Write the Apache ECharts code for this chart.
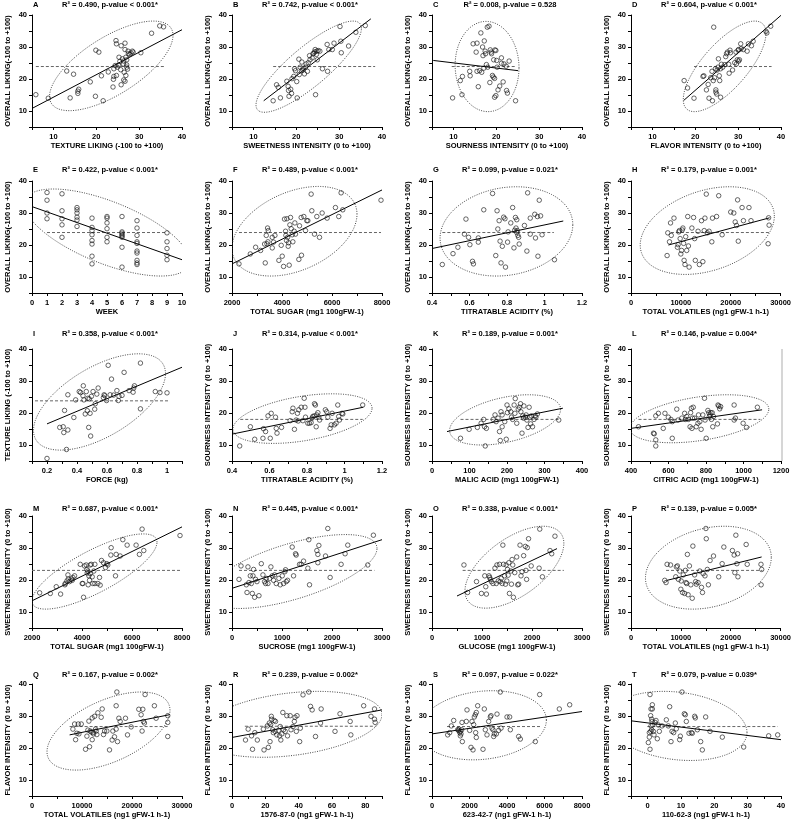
<!DOCTYPE html>
<html><head><meta charset="utf-8">
<script src="https://cdn.jsdelivr.net/npm/echarts@6/dist/echarts.min.js"></script>
<style>html,body{margin:0;padding:0;background:#fff}#c{width:794px;height:825px}</style>
</head><body><div id="c"></div>
<script>
const letters = ['A','B','C','D','E','F','G','H','I','J','K','L','M','N','O','P','Q','R','S','T'];
const stats = [
 'R² = 0.490, p-value < 0.001*','R² = 0.742, p-value < 0.001*','R² = 0.008, p-value = 0.528','R² = 0.604, p-value < 0.001*',
 'R² = 0.422, p-value < 0.001*','R² = 0.489, p-value < 0.001*','R² = 0.099, p-value = 0.021*','R² = 0.179, p-value = 0.001*',
 'R² = 0.358, p-value < 0.001*','R² = 0.314, p-value < 0.001*','R² = 0.189, p-value = 0.001*','R² = 0.146, p-value = 0.004*',
 'R² = 0.687, p-value < 0.001*','R² = 0.445, p-value < 0.001*','R² = 0.338, p-value < 0.001*','R² = 0.139, p-value = 0.005*',
 'R² = 0.167, p-value = 0.002*','R² = 0.239, p-value = 0.002*','R² = 0.097, p-value = 0.022*','R² = 0.079, p-value = 0.039*'];
const xNames = [
 'TEXTURE LIKING (-100 to +100)','SWEETNESS INTENSITY (0 to +100)','SOURNESS INTENSITY (0 to +100)','FLAVOR INTENSITY (0 to +100)',
 'WEEK','TOTAL SUGAR (mg1 100gFW-1)','TITRATABLE ACIDITY (%)','TOTAL VOLATILES (ng1 gFW-1 h-1)',
 'FORCE (kg)','TITRATABLE ACIDITY (%)','MALIC ACID (mg1 100gFW-1)','CITRIC ACID (mg1 100gFW-1)',
 'TOTAL SUGAR (mg1 100gFW-1)','SUCROSE (mg1 100gFW-1)','GLUCOSE (mg1 100gFW-1)','TOTAL VOLATILES (ng1 gFW-1 h-1)',
 'TOTAL VOLATILES (ng1 gFW-1 h-1)','1576-87-0 (ng1 gFW-1 h-1)','623-42-7 (ng1 gFW-1 h-1)','110-62-3 (ng1 gFW-1 h-1)'];
const yNames = [
 'OVERALL LIKING(-100 to +100)','OVERALL LIKING(-100 to +100)','OVERALL LIKING(-100 to +100)','OVERALL LIKING(-100 to +100)',
 'OVERALL LIKING(-100 to +100)','OVERALL LIKING(-100 to +100)','OVERALL LIKING(-100 to +100)','OVERALL LIKING(-100 to +100)',
 'TEXTURE LIKING (-100 to +100)','SOURNESS INTENSITY (0 to +100)','SOURNESS INTENSITY (0 to +100)','SOURNESS INTENSITY (0 to +100)',
 'SWEETNESS INTENSITY (0 to +100)','SWEETNESS INTENSITY (0 to +100)','SWEETNESS INTENSITY (0 to +100)','SWEETNESS INTENSITY (0 to +100)',
 'FLAVOR INTENSITY (0 to +100)','FLAVOR INTENSITY (0 to +100)','FLAVOR INTENSITY (0 to +100)','FLAVOR INTENSITY (0 to +100)'];
const xMins = [5,5,5,5, 0,2000,0.4,0, 0.1,0.4,0,400, 2000,0,0,0, 0,0,0,-5];
const xMaxs = [40,40,40,40, 10,8000,1.2,30000, 1.1,1.2,400,1200, 8000,3000,3000,30000, 30000,90,8000,40];
const xLabelSteps = [10,10,10,10, 1,2000,0.2,10000, 0.2,0.2,100,200, 2000,1000,1000,10000, 10000,20,2000,10];
const xTickSteps = [5,5,5,5, 1,1000,0.1,5000, 0.1,0.1,50,100, 1000,500,500,5000, 5000,10,1000,5];
const yMin = 5, yMax = 40, yTickStep = 5, yLabelStep = 10;

const ptsA = [[5.9,15.1],[8.8,14.0],[13.1,22.5],[14.7,21.5],[13.9,14.1],[15.9,16.8],[15.7,16.2],[15.7,15.5],[18.6,19.1],[19.9,29.0],[20.6,28.4],[19.8,14.6],[21.2,21.0],[21.6,13.2],[22.8,22.2],[23.9,17.5],[24.0,19.9],[24.1,20.8],[24.1,23.2],[24.6,32.0],[24.7,31.0],[24.4,24.2],[24.9,23.7],[25.2,24.3],[24.7,21.1],[25.5,25.5],[25.3,26.8],[25.7,22.9],[25.8,30.4],[25.8,18.2],[26.1,26.3],[26.4,25.6],[26.3,24.7],[26.5,22.1],[26.4,19.7],[26.7,29.2],[26.7,31.2],[26.7,19.3],[26.9,26.8],[26.9,21.1],[27.1,23.7],[27.1,24.4],[27.4,28.7],[27.5,27.9],[27.8,27.7],[28.1,28.1],[28.4,28.7],[28.6,28.4],[30.4,28.2],[32.9,34.3],[34.8,36.6],[35.7,36.3],[27.1,26.0],[27.3,23.1]];
const ptsB = [[14.6,13.2],[15.4,18.2],[15.8,17.4],[16.3,14.1],[17.8,19.3],[18.1,17.7],[18.2,16.4],[18.7,16.8],[18.9,15.5],[18.3,14.6],[19.0,20.1],[19.4,20.8],[20.1,19.2],[19.6,23.2],[19.8,22.6],[20.2,14.1],[20.6,26.2],[20.7,21.4],[20.9,23.7],[21.2,22.6],[21.3,25.3],[21.5,22.8],[21.6,23.3],[21.9,21.6],[22.2,23.7],[22.3,24.7],[22.6,22.4],[22.8,25.1],[23.1,27.3],[23.2,26.0],[23.7,26.6],[23.9,27.9],[24.1,28.1],[24.3,28.5],[24.4,29.2],[24.7,27.7],[24.5,15.1],[24.8,28.7],[25.1,28.9],[25.5,28.7],[24.9,26.0],[27.2,30.8],[27.3,22.4],[27.6,29.2],[28.8,31.2],[30.2,36.4],[30.4,31.8],[30.5,28.2],[32.2,30.3],[33.9,34.6],[36.1,36.7],[28.4,29.2],[26.1,23.2]];
const ptsC = [[9.8,14.1],[11.6,19.5],[12.0,15.1],[12.1,20.8],[13.8,22.4],[13.9,21.0],[14.6,31.0],[15.3,28.4],[15.5,31.2],[15.5,22.4],[15.8,17.6],[16.1,22.6],[16.4,34.4],[16.6,22.1],[16.8,30.0],[16.9,27.3],[17.1,23.4],[17.2,31.9],[17.4,28.7],[17.5,27.9],[17.7,24.5],[17.9,36.2],[18.0,23.7],[18.3,36.5],[18.5,18.9],[18.6,29.1],[18.8,28.4],[18.9,27.9],[19.1,21.1],[19.3,20.6],[19.4,26.0],[19.6,20.2],[19.7,29.1],[19.9,28.9],[19.6,14.3],[19.9,14.8],[20.1,25.8],[20.2,23.7],[20.4,16.6],[20.8,17.8],[21.2,26.6],[21.2,24.9],[21.6,19.1],[21.8,24.7],[22.3,24.0],[22.4,16.4],[22.6,15.6],[23.0,25.6],[24.5,13.2]];
const ptsD = [[17.4,19.5],[18.2,17.2],[19.7,14.0],[21.8,20.8],[22.0,21.0],[22.6,16.6],[23.0,18.3],[23.2,14.0],[23.6,20.4],[23.9,22.4],[24.0,13.2],[24.2,19.5],[24.3,36.2],[24.5,20.4],[24.7,23.2],[24.8,16.6],[24.8,15.9],[25.0,15.3],[25.1,22.8],[25.3,23.7],[25.4,26.3],[25.6,21.0],[25.7,19.5],[25.9,14.3],[25.9,23.2],[26.1,24.6],[26.4,23.7],[26.9,24.5],[27.1,27.0],[27.3,27.9],[27.5,28.4],[27.8,24.6],[27.9,21.8],[28.1,29.0],[28.2,28.2],[28.7,22.8],[29.2,25.1],[29.5,28.4],[29.6,24.7],[29.8,26.0],[30.0,29.0],[30.1,29.2],[30.1,25.6],[30.3,26.0],[30.6,31.0],[30.7,29.5],[31.2,29.2],[32.1,28.7],[32.4,31.0],[33.1,30.4],[33.5,31.8],[36.5,34.9],[36.7,34.4],[37.6,36.5]];
const ptsE = [[1,36.4],[1,34.0],[1,30.0],[1,28.2],[2,36.0],[2,30.7],[2,28.2],[2,26.3],[2,22.4],[3,31.7],[3,31.0],[3,30.0],[3,28.7],[3,27.8],[3,25.8],[4,28.4],[4,25.5],[4,24.5],[4,23.2],[4,21.4],[4,20.3],[4,16.5],[4,14.1],[5,28.9],[5,28.4],[5,26.9],[5,25.1],[5,22.4],[5,21.0],[6,28.9],[6,24.1],[6,23.7],[6,23.2],[6,22.8],[6,22.4],[6,19.3],[6,13.1],[7,27.6],[7,25.3],[7,23.0],[7,21.0],[7,20.5],[7,18.1],[7,17.5],[7,15.2],[7,14.4],[7,13.9],[9,23.8],[9,21.0],[9,18.9],[9,16.8],[9,15.4]];
const ptsF = [[2279,14.1],[2732,17.2],[2945,19.3],[3144,18.3],[3304,20.3],[3330,14.4],[3370,23.0],[3397,20.4],[3423,25.3],[3437,21.0],[3450,24.5],[3610,19.1],[3610,22.4],[3663,20.9],[3716,23.0],[3876,15.2],[3969,19.9],[4009,16.5],[4062,13.3],[4100,28.1],[4142,24.3],[4155,23.0],[4182,21.4],[4195,28.2],[4222,22.4],[4248,19.6],[4262,20.7],[4288,13.7],[4315,26.3],[4341,28.6],[4368,25.1],[4408,23.2],[4434,21.0],[4488,24.3],[4514,26.9],[4540,23.4],[4674,15.5],[4700,26.0],[4767,28.6],[4780,16.8],[4873,28.9],[4940,24.5],[4993,27.6],[5033,27.6],[5166,35.9],[5193,30.7],[5300,23.4],[5393,28.9],[5500,22.4],[5606,30.0],[5805,28.4],[6138,31.7],[6271,28.9],[6364,36.3],[6430,31.0],[7960,34.0]];
const ptsG = [[0.455,13.9],[0.512,17.3],[0.538,19.3],[0.573,23.4],[0.581,28.1],[0.595,22.4],[0.602,20.1],[0.616,14.9],[0.621,14.1],[0.647,22.2],[0.647,20.9],[0.676,31.0],[0.723,36.1],[0.740,16.7],[0.747,30.7],[0.751,25.0],[0.758,27.6],[0.763,21.2],[0.768,14.4],[0.775,19.6],[0.782,28.7],[0.789,28.2],[0.792,13.1],[0.803,20.9],[0.806,24.1],[0.820,26.9],[0.830,31.7],[0.837,19.1],[0.841,24.6],[0.845,28.6],[0.848,25.3],[0.852,23.9],[0.852,27.9],[0.855,24.5],[0.858,23.0],[0.862,22.4],[0.865,20.3],[0.893,26.1],[0.906,18.1],[0.910,36.3],[0.924,28.4],[0.924,23.4],[0.948,29.6],[0.952,22.2],[0.962,28.9],[0.965,16.5],[0.972,34.0],[0.979,29.1],[0.987,23.2],[1.053,15.4]];
const ptsH = [[7240,16.7],[7380,23.8],[7720,21.0],[7930,26.9],[8070,23.0],[8620,28.4],[9310,19.3],[9450,20.1],[9590,24.1],[9700,24.5],[9860,22.0],[10000,17.2],[10140,18.3],[10280,24.7],[10410,25.3],[10550,20.5],[10650,15.2],[10830,13.9],[10970,22.6],[11170,18.3],[11380,28.9],[11520,19.7],[11660,13.1],[12210,25.3],[12550,28.6],[12760,22.0],[12900,15.2],[13450,24.3],[13720,13.9],[14140,27.6],[14410,14.8],[14690,24.5],[14830,28.4],[15100,35.9],[15310,23.8],[15660,24.3],[16210,21.0],[16340,28.4],[17170,28.9],[17590,35.4],[18280,23.2],[20000,30.3],[20620,30.0],[20900,27.2],[21170,26.1],[21380,34.1],[21520,21.2],[22280,31.7],[22550,27.6],[23660,31.7],[24070,27.6],[27600,28.5],[27700,26.2],[27500,20.4]];
const ptsI = [[0.2,5.8],[0.285,15.5],[0.308,15.7],[0.312,13.9],[0.317,20.8],[0.330,8.6],[0.339,14.7],[0.339,25.7],[0.379,18.6],[0.391,24.1],[0.415,26.7],[0.424,26.4],[0.440,25.4],[0.442,28.5],[0.446,24.1],[0.455,19.7],[0.462,26.7],[0.469,20.7],[0.473,24.6],[0.478,15.5],[0.482,24.4],[0.487,19.9],[0.491,12.8],[0.496,25.2],[0.507,26.7],[0.518,21.2],[0.522,22.9],[0.532,25.9],[0.541,27.8],[0.576,24.8],[0.581,25.7],[0.585,25.4],[0.597,23.9],[0.608,34.9],[0.621,25.7],[0.630,30.6],[0.644,25.6],[0.666,27.0],[0.675,23.9],[0.680,25.2],[0.700,25.5],[0.714,32.7],[0.747,27.0],[0.774,26.5],[0.778,27.8],[0.783,28.5],[0.823,21.3],[0.823,35.6],[0.922,26.7],[0.953,26.4],[1.0,26.3]];
const ptsJ = [[0.441,9.7],[0.498,15.7],[0.521,11.8],[0.565,12.1],[0.568,15.1],[0.579,14.2],[0.592,19.1],[0.604,12.1],[0.609,19.9],[0.632,18.7],[0.636,15.2],[0.640,13.7],[0.664,15.5],[0.710,17.6],[0.721,20.4],[0.725,21.5],[0.733,14.9],[0.742,17.8],[0.749,19.9],[0.753,17.5],[0.756,21.0],[0.769,21.8],[0.778,17.6],[0.785,24.6],[0.789,21.8],[0.792,18.7],[0.804,16.8],[0.813,16.8],[0.822,17.0],[0.827,18.4],[0.831,18.9],[0.838,19.1],[0.840,22.9],[0.845,22.5],[0.849,15.7],[0.852,19.4],[0.858,20.1],[0.863,18.7],[0.867,17.8],[0.898,21.0],[0.905,20.4],[0.911,18.7],[0.923,15.2],[0.929,16.3],[0.934,19.9],[0.946,16.3],[0.955,16.8],[0.964,22.5],[0.969,18.9],[0.973,17.8],[0.987,19.9],[0.991,19.7],[1.097,22.5]];
const ptsK = [[76,12.1],[99,14.9],[121,15.5],[131,16.8],[138,18.0],[140,15.7],[142,9.7],[145,15.2],[163,18.0],[168,19.4],[171,17.3],[176,18.4],[180,14.2],[182,11.4],[184,20.4],[187,19.4],[187,15.7],[194,17.3],[198,11.8],[200,22.5],[201,20.1],[205,21.3],[210,20.4],[212,18.7],[215,18.0],[219,22.5],[221,19.9],[222,24.5],[226,16.8],[230,21.2],[233,21.8],[236,22.9],[237,20.4],[240,13.7],[242,19.1],[244,18.4],[245,22.2],[249,18.7],[251,19.4],[253,17.8],[256,15.5],[259,21.8],[261,18.7],[263,16.6],[265,19.1],[268,15.7],[272,18.0],[275,19.1],[277,18.7],[281,19.7],[338,17.8]];
const ptsL = [[440,15.7],[520,13.7],[524,13.5],[532,11.6],[532,9.7],[532,19.1],[546,19.9],[572,15.2],[581,19.9],[599,18.7],[613,18.0],[620,17.3],[620,12.1],[644,21.2],[651,17.8],[671,18.4],[686,19.9],[690,18.0],[697,18.9],[706,18.0],[715,15.7],[718,20.1],[722,21.5],[725,15.2],[728,18.4],[732,21.8],[739,18.4],[748,15.7],[757,16.8],[760,19.4],[767,17.3],[774,14.9],[783,19.4],[792,24.6],[795,17.8],[801,12.1],[810,20.8],[815,20.1],[818,18.9],[822,19.4],[826,20.1],[829,18.0],[833,20.1],[836,15.7],[840,18.9],[861,16.6],[864,22.5],[868,22.2],[873,21.3],[878,22.0],[950,22.5],[950,17.8],[957,18.4],[998,16.8],[1016,15.5],[1074,21.8]];
const ptsM = [[2306,16.0],[2732,15.8],[2971,17.9],[3144,15.6],[3317,18.5],[3330,18.9],[3397,19.7],[3437,21.6],[3450,20.3],[3503,19.5],[3570,20.3],[3610,19.9],[3636,20.8],[3703,21.3],[3929,24.9],[4009,18.9],[4035,18.9],[4062,14.6],[4102,24.4],[4168,24.7],[4195,23.3],[4208,22.2],[4235,22.8],[4248,18.5],[4275,21.3],[4301,19.9],[4328,22.0],[4328,24.7],[4368,24.9],[4408,21.0],[4434,18.9],[4474,22.8],[4514,24.9],[4514,18.9],[4634,18.9],[4700,20.8],[4727,18.4],[4780,26.1],[4860,25.4],[4940,23.9],[4993,25.1],[5033,24.7],[5153,27.8],[5166,30.1],[5340,21.3],[5366,28.0],[5526,27.5],[5633,32.6],[5805,30.9],[6164,30.9],[6297,28.0],[6470,29.2],[6404,35.9],[7920,33.9]];
const ptsN = [[140,20.2],[180,24.4],[286,18.5],[300,16.1],[319,24.1],[339,19.2],[366,21.3],[386,18.9],[406,15.8],[419,21.3],[432,23.3],[452,14.6],[472,20.2],[499,19.5],[539,15.1],[586,25.1],[619,21.6],[652,19.5],[672,18.9],[685,20.5],[719,18.9],[752,20.5],[778,24.1],[805,21.3],[832,19.9],[852,21.6],[885,18.9],[938,20.5],[965,18.5],[1005,21.3],[1031,18.9],[1058,22.6],[1071,23.2],[1085,19.5],[1111,19.9],[1204,30.3],[1231,21.3],[1271,28.2],[1284,27.8],[1351,24.9],[1384,24.9],[1431,25.9],[1517,23.7],[1550,18.5],[1537,32.6],[1697,29.2],[1717,28.0],[1717,25.4],[1737,30.8],[1870,27.5],[1916,36.1],[1963,20.8],[2182,24.9],[2262,28.2],[2315,30.9],[2715,24.7],[2828,34.0]];
const ptsO = [[639,24.7],[712,16.1],[890,19.5],[989,15.8],[1055,21.3],[1075,17.9],[1088,15.6],[1140,21.3],[1154,20.8],[1167,20.2],[1187,19.5],[1220,18.9],[1259,23.7],[1285,18.9],[1299,24.7],[1325,19.7],[1351,24.9],[1365,19.5],[1384,20.5],[1404,18.9],[1417,30.9],[1430,24.9],[1450,21.3],[1470,18.7],[1483,24.7],[1496,19.7],[1510,23.3],[1523,21.5],[1536,25.4],[1549,15.8],[1576,22.8],[1589,18.7],[1602,26.4],[1615,24.7],[1628,14.6],[1655,22.3],[1694,27.2],[1714,18.5],[1734,18.7],[1760,30.9],[1780,21.3],[1800,22.6],[1833,27.6],[1866,30.5],[1879,23.0],[1892,20.2],[1905,30.1],[1931,32.9],[1984,24.4],[2142,23.7],[2155,35.9],[2208,21.0],[2360,29.2],[2394,28.2],[2459,33.7]];
const ptsP = [[6760,19.9],[7030,19.2],[7240,24.9],[7930,24.7],[8970,21.0],[9100,24.1],[9310,24.4],[9520,20.2],[9790,22.8],[10000,17.1],[10070,19.7],[10340,16.1],[10480,21.6],[10760,15.8],[10900,23.0],[11030,19.2],[11170,18.9],[11310,28.0],[11450,15.4],[11720,24.4],[12000,18.5],[12280,14.3],[12410,30.6],[12760,21.6],[12970,19.5],[13100,18.7],[13450,19.2],[13790,22.8],[14140,17.7],[14340,16.1],[14480,22.0],[14830,21.3],[15030,36.1],[15100,32.9],[15310,23.3],[15520,18.5],[15860,26.1],[16550,27.5],[17590,21.0],[18280,25.1],[18620,30.3],[20340,29.2],[20690,27.8],[20830,22.3],[21030,34.0],[21240,25.1],[21380,28.2],[21450,21.0],[23100,31.1],[23310,24.9],[26070,24.9],[26210,23.3],[26100,18.5]];
const ptsQ = [[8180,25.9],[8520,27.5],[8720,22.6],[8980,24.6],[9250,27.5],[9380,24.4],[9850,27.5],[10710,19.6],[10980,23.7],[11180,25.6],[11380,28.4],[11510,20.4],[11640,25.3],[11840,25.0],[12040,29.4],[12040,22.6],[12180,24.8],[12310,24.4],[12510,29.9],[12710,25.9],[12840,25.3],[12970,24.2],[13170,31.0],[13840,29.6],[14040,32.2],[14300,24.2],[14510,25.3],[14970,25.3],[15500,19.4],[16030,22.5],[16170,25.3],[16500,23.5],[16830,25.9],[16830,33.2],[16970,37.5],[17100,22.0],[17370,29.3],[17630,28.3],[18700,29.3],[19100,24.1],[19830,26.6],[21360,32.1],[21820,30.4],[22020,25.3],[22160,32.1],[22290,28.3],[22490,27.8],[22620,36.7],[24480,33.2],[24820,29.3],[27150,30.1],[27150,28.0],[27150,23.6]];
const ptsR = [[8.1,22.5],[9.7,25.9],[11.7,23.8],[12.3,19.6],[13.7,24.8],[15.2,22.5],[18.8,25.9],[19.2,19.4],[21.2,26.9],[21.8,20.2],[22.4,27.8],[22.8,22.0],[23.2,27.3],[23.6,29.9],[23.8,29.0],[24.4,25.7],[24.8,24.8],[25.3,28.6],[25.9,25.2],[26.1,28.3],[26.9,24.1],[27.9,25.5],[28.5,23.8],[28.9,26.7],[29.3,22.5],[29.9,24.4],[30.5,31.1],[30.9,25.7],[31.9,25.2],[32.9,30.1],[33.3,23.8],[34.9,30.1],[35.4,25.7],[36.6,26.7],[37.4,28.3],[37.8,29.6],[38.6,25.2],[39.0,30.1],[40.6,22.0],[41.0,26.2],[42.6,36.6],[46.1,37.5],[47.1,33.0],[48.1,31.9],[50.1,23.6],[53.1,27.8],[53.5,32.2],[61.8,25.2],[64.8,30.7],[70.9,28.3],[71.3,24.1],[79.0,33.2],[83.4,29.9],[85.5,32.2],[85.9,28.0],[85.5,29.0]];
const ptsS = [[836,24.1],[942,24.8],[1031,26.9],[1156,28.6],[1369,25.7],[1422,25.5],[1440,25.9],[1476,24.8],[1511,23.8],[1511,25.2],[1547,24.4],[1582,25.7],[1600,28.0],[1618,22.0],[1831,28.3],[1867,31.9],[2009,25.5],[2080,20.2],[2133,28.3],[2187,19.4],[2222,27.3],[2258,29.7],[2311,30.4],[2329,24.8],[2364,23.3],[2364,31.1],[2436,33.2],[2720,19.6],[2791,32.2],[2844,25.7],[2933,24.1],[3022,28.3],[3111,29.7],[3147,30.1],[3200,26.2],[3253,25.7],[3289,23.6],[3324,24.4],[3431,24.4],[3467,30.6],[3556,25.5],[3644,37.5],[3680,26.2],[4000,29.7],[4142,29.7],[4178,25.7],[4622,23.6],[4711,22.8],[5511,22.0],[5742,36.7],[6791,32.2],[7342,33.5]];
const ptsT = [[0.2,21.7],[0.5,23.4],[0.5,24.8],[0.7,36.7],[0.7,19.6],[0.9,25.2],[0.9,30.1],[1.0,26.9],[1.0,32.2],[1.2,25.7],[1.2,29.0],[1.3,28.3],[1.4,32.2],[1.4,33.5],[1.5,27.2],[1.7,25.2],[1.9,24.1],[2.2,28.0],[2.5,28.6],[2.9,22.9],[3.2,27.2],[3.5,25.2],[4.3,26.9],[5.6,28.8],[6.2,26.9],[6.6,32.9],[7.0,22.0],[7.3,25.2],[7.8,24.8],[8.3,27.8],[8.6,26.0],[9.6,22.6],[9.8,23.7],[10.3,37.5],[11.0,30.7],[11.3,30.4],[11.6,28.3],[12.4,24.6],[13.1,24.8],[13.4,24.6],[14.1,29.9],[14.3,29.4],[14.9,25.7],[15.9,22.0],[16.4,19.4],[17.4,29.7],[18.7,25.2],[22.4,23.4],[28.8,20.3],[36.3,23.8],[39.0,24.1]];
const points = [ptsA,ptsB,ptsC,ptsD,ptsE,ptsF,ptsG,ptsH,ptsI,ptsJ,ptsK,ptsL,ptsM,ptsN,ptsO,ptsP,ptsQ,ptsR,ptsS,ptsT];

// regression line ends [x1, y1, x2, y2]
const regLines = [[5,10.8,40,35.4],[12.4,13.2,37.4,38.8],[5.3,25.8,25.1,22.6],[17.3,13.3,40,39.9],
 [0,32.0,10,15.4],[2000,14.1,8000,37.2],[0.4,18.9,1.1,27.5],[7500,20.0,27800,28.5],
 [0.2,16.6,1.1,34.3],[0.4,13.4,1.1,21.8],[40,14.2,349,21.5],[400,15.2,1099,21.0],
 [2000,13.5,8000,36.6],[0,17.4,3000,32.6],[500,15.0,2500,29.8],[7240,19.9,26200,27.2],
 [7520,24.1,27480,30.4],[0,23.3,90,31.9],[0,24.4,8000,31.4],[-5,28.5,40,22.6]];
// mean lines [x1, x2, y]
const meanLines = [[5.9,36.0,23.9],[14.6,38.4,23.9],[9.6,24.5,23.9],[19.7,37.8,23.9],
 [1,9,23.9],[2279,7960,23.9],[0.455,1.05,23.9],[8000,27800,23.9],
 [0.12,1.01,23.8],[0.444,1.097,18.0],[76,338,18.0],[440,1090,18.0],
 [2000,7920,23.0],[140,2848,23.0],[613,2637,23.0],[7030,26350,23.0],
 [7520,27480,26.7],[7.7,86.5,26.8],[800,5780,26.7],[-0.1,39,26.7]];
// ellipses [cx, cy, rx, ry, rho]
const ellipses = [[23.5,24.1,14.4,14.0,0.68],[22.9,23.85,12.3,14.25,0.84],[17.85,23.9,7.45,14.1,-0.03],[26.85,23.95,9.65,14.15,0.73],
 [5,23.9,5.5,13.6,-0.65],[4500,24.3,2500,14.0,0.38],[0.797,24.25,0.354,13.95,0.15],[15300,24.5,13450,13.7,0.33],
 [0.55,23.45,0.44,15.05,0.59],[0.776,18.25,0.371,7.75,0.42],[195,17.85,148,7.85,0.42],[765,18.2,370,7.5,0.4],
 [4500,22.65,2500,11.75,0.78],[1200,22.65,1700,11.55,0.625],[1648,24.0,989,12.8,0.58],[15520,23.85,12620,12.95,0.25],
 [15300,25.3,12300,12.2,0.53],[35,27.4,55,10.3,0.3],[2700,27.1,3400,10.8,0.15],[8.85,26.9,20.95,10.8,-0.19]];

// ---- layout ----
const colLeft = [32, 232, 432, 631];
const rowTop = [15, 181, 349, 516, 684];
const rowTitleY = [5, 170, 334, 509, 675];
const W = 150, H = 112;
const FONT = '"Liberation Sans", Arial, sans-serif';
const FS = 7.5;
const ink = '#000';

function isMult(v, step) { const q = v / step; return Math.abs(q - Math.round(q)) < 1e-6; }
function fmt(v) { return String(+(+v).toFixed(6)); }

const grids = [], xAxes = [], yAxes = [], series = [], graphics = [];
for (let i = 0; i < 20; i++) {
  const r = Math.floor(i / 4), c = i % 4;
  grids.push({ left: colLeft[c], top: rowTop[r], width: W, height: H, containLabel: false });
  const step = xLabelSteps[i];
  xAxes.push({
    type: 'value', gridIndex: i, min: xMins[i], max: xMaxs[i], interval: xTickSteps[i],
    name: xNames[i], nameLocation: 'middle', nameGap: 15,
    nameTextStyle: { fontSize: FS, fontWeight: 'bold', fontFamily: FONT, color: ink },
    axisLine: { onZero: false, lineStyle: { color: '#000', width: 1 } },
    axisTick: { show: true, length: 3, lineStyle: { color: '#000', width: 1 } },
    axisLabel: { fontSize: FS, fontWeight: 'bold', fontFamily: FONT, color: ink, margin: 6,
      formatter: v => isMult(v, step) ? fmt(v) : '' },
    splitLine: { show: false }
  });
  yAxes.push({
    type: 'value', gridIndex: i, min: yMin, max: yMax, interval: yTickStep,
    name: yNames[i], nameLocation: 'middle', nameGap: 20,
    nameTextStyle: { fontSize: FS, fontWeight: 'bold', fontFamily: FONT, color: ink },
    axisLine: { onZero: false, lineStyle: { color: '#000', width: 1 } },
    axisTick: { show: true, length: 3, lineStyle: { color: '#000', width: 1 } },
    axisLabel: { fontSize: FS, fontWeight: 'bold', fontFamily: FONT, color: ink, margin: 5,
      formatter: v => isMult(v, yLabelStep) ? fmt(v) : '' },
    splitLine: { show: false }
  });
  const e = ellipses[i];
  series.push({
    type: 'custom', xAxisIndex: i, yAxisIndex: i, silent: true, z: 1,
    data: [[e[0], e[1]]],
    renderItem: (params, api) => {
      const phi = Math.acos(e[4]);
      const pts = [];
      for (let k = 0; k <= 160; k++) {
        const t = k / 160 * Math.PI * 2;
        pts.push(api.coord([e[0] + e[2] * Math.cos(t), e[1] + e[3] * Math.cos(t - phi)]));
      }
      const cs = params.coordSys;
      return { type: 'polyline', shape: { points: pts },
        style: { stroke: '#333', fill: null, lineWidth: 0.9, lineDash: [1, 1.4] },
        clipPath: { type: 'rect', shape: { x: cs.x, y: cs.y, width: cs.width, height: cs.height } } };
    }
  });
  const m = meanLines[i];
  series.push({ type: 'line', xAxisIndex: i, yAxisIndex: i, silent: true, symbol: 'none', z: 2,
    data: [[m[0], m[2]], [m[1], m[2]]],
    lineStyle: { color: '#666', width: 1, type: [3, 2] } });
  const g = regLines[i];
  series.push({ type: 'line', xAxisIndex: i, yAxisIndex: i, silent: true, symbol: 'none', z: 3,
    data: [[g[0], g[1]], [g[2], g[3]]],
    lineStyle: { color: '#000', width: 1 } });
  series.push({ type: 'scatter', xAxisIndex: i, yAxisIndex: i, silent: true, z: 4,
    symbol: 'circle', symbolSize: 4.5,
    itemStyle: { color: 'rgba(255,255,255,0)', borderColor: '#111', borderWidth: 0.8 },
    data: points[i] });
  graphics.push({ type: 'text', x: colLeft[c] + 1, y: rowTitleY[r],
    style: { text: letters[i], font: 'bold ' + FS + 'px ' + FONT, fill: ink, textAlign: 'left', textVerticalAlign: 'middle', verticalAlign: 'middle' } });
  graphics.push({ type: 'text', x: colLeft[c] + W / 2 + 3, y: rowTitleY[r],
    style: { text: stats[i], font: 'bold ' + FS + 'px ' + FONT, fill: ink, textAlign: 'center', textVerticalAlign: 'middle', verticalAlign: 'middle' } });
}
// light grey frame edge at right of panel L
graphics.push({ type: 'line', shape: { x1: colLeft[3] + W + 1, y1: rowTop[2], x2: colLeft[3] + W + 1, y2: rowTop[2] + H },
  style: { stroke: '#c8c8c8', lineWidth: 1.5 } });

const chart = echarts.init(document.getElementById('c'), null, { renderer: 'canvas' });
chart.setOption({
  animation: false, backgroundColor: '#fff',
  grid: grids, xAxis: xAxes, yAxis: yAxes, series: series, graphic: graphics
});
</script></body></html>
